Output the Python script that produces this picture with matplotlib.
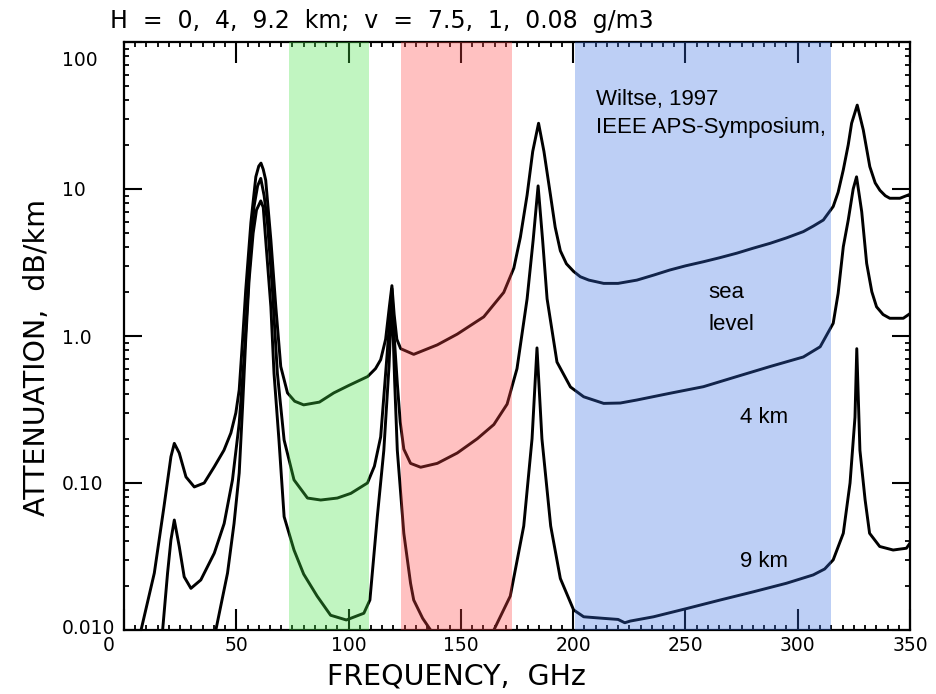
import numpy as np
import matplotlib
matplotlib.use("Agg")
import matplotlib.pyplot as plt
from matplotlib.ticker import MultipleLocator, LogLocator, NullFormatter
import matplotlib.transforms as mtransforms

# Atmospheric attenuation vs frequency at three altitudes
sea_freq = [7.6, 13.5, 17.8, 20.9, 22.4, 24.6, 27.6, 31.3, 35.7, 40.2, 44.5, 47.6,
            49.8, 51.3, 52.8, 54.2, 56.5, 58.7, 60.0, 61.0, 62.0, 63.1, 65.4, 67.6, 69.8, 72.8,
            76.0, 80.0, 87.0, 93.4, 100.0, 105.0, 108.5, 112.0, 114.3, 116.5, 118.2,
            119.3, 120.3, 121.5, 123.2, 129.0, 139.5, 148.4, 160.2, 169.1, 173.6,
            176.5, 179.5, 182.0, 184.6, 187.0, 189.9, 192.0, 194.3, 197.0, 200.2,
            203.2, 207.0, 213.6, 220.0, 228.4, 236.0, 243.0, 250.0, 258.0, 265.0,
            272.9, 280.0, 287.7, 295.0, 302.5, 307.0, 311.4, 315.8, 318.0, 320.3,
            322.5, 324.0, 326.5, 329.2, 332.1, 334.5, 336.6, 339.0, 341.0, 345.5, 350.0]
sea_att = [0.010, 0.0244, 0.069, 0.151, 0.186, 0.16, 0.11, 0.094, 0.10, 0.129, 0.167, 0.219,
           0.30, 0.43, 0.94, 2.05, 5.9, 12.1, 14.3, 15.0, 13.6, 11.5, 4.5, 1.58, 0.62, 0.41,
           0.36, 0.34, 0.355, 0.41, 0.46, 0.50, 0.53, 0.60, 0.69, 0.95, 1.6,
           2.2, 1.4, 0.95, 0.82, 0.75, 0.87, 1.03, 1.35, 1.98, 2.9,
           4.7, 9.1, 18.0, 28.0, 18.0, 9.1, 5.5, 3.8, 3.1, 2.75,
           2.53, 2.4, 2.28, 2.28, 2.4, 2.6, 2.81, 3.0, 3.2, 3.4,
           3.66, 3.95, 4.27, 4.65, 5.13, 5.6, 6.15, 7.6, 9.5, 13.5,
           20.0, 28.0, 37.2, 25.2, 14.2, 11.0, 9.8, 9.0, 8.65, 8.65, 9.2]

km4_freq = [17.2, 19.4, 20.9, 22.4, 24.6, 26.8, 29.8, 34.2, 40.2, 44.6, 48.3, 51.3,
            53.5, 55.7, 57.9, 59.5, 60.9, 62.4, 63.9, 66.1, 68.3, 71.3, 75.7, 81.7,
            87.6, 95.0, 101.0, 108.4, 111.5, 114.3, 117.3, 119.3, 120.3, 121.7, 123.0,
            124.6, 127.6, 132.1, 139.5, 148.4, 157.3, 164.7, 170.6, 175.0, 179.5,
            182.2, 184.4, 186.4, 188.4, 192.8, 198.8, 204.7, 213.6, 221.0, 228.4,
            243.2, 258.0, 272.9, 287.7, 302.5, 310.0, 315.8, 318.0, 320.3, 322.5,
            324.7, 326.2, 328.5, 330.7, 333.0, 335.1, 338.0, 341.0, 347.0, 350.0]
km4_att = [0.010, 0.0244, 0.041, 0.056, 0.037, 0.023, 0.0192, 0.0219, 0.0333, 0.053, 0.105, 0.255,
           0.72, 2.67, 7.6, 10.5, 11.8, 9.0, 5.85, 2.05, 0.557, 0.196, 0.105, 0.079,
           0.0766, 0.079, 0.085, 0.10, 0.13, 0.206, 0.8, 2.1, 1.0, 0.476, 0.26,
           0.17, 0.136, 0.128, 0.136, 0.16, 0.20, 0.25, 0.344, 0.6, 1.79,
           4.5, 10.5, 4.5, 1.79, 0.665, 0.45, 0.386, 0.348, 0.35, 0.367,
           0.408, 0.452, 0.53, 0.62, 0.72, 0.845, 1.22, 1.95, 4.05, 6.15,
           10.0, 12.1, 7.0, 3.12, 2.0, 1.58, 1.4, 1.32, 1.32, 1.42]

km9_freq = [40.9, 46.1, 49.0, 51.3, 52.8, 54.2, 55.7, 57.5, 59.0, 60.9, 62.0, 63.1,
            65.4, 66.8, 69.0, 71.3, 75.7, 80.0, 86.0, 92.0, 99.0, 106.8, 109.5,
            112.8, 115.7, 118.0, 119.3, 120.5, 121.7, 124.6, 127.6, 129.0, 133.0,
            136.5, 150.0, 164.7, 172.0, 178.0, 181.7, 183.9, 186.1, 190.0, 194.3,
            200.2, 204.7, 213.6, 220.0, 223.0, 225.4, 235.8, 250.6, 265.5, 280.3,
            295.0, 306.9, 312.0, 315.8, 320.3, 323.3, 325.5, 326.3, 327.7, 330.0,
            332.0, 336.5, 342.5, 348.4, 350.0]
km9_att = [0.010, 0.0244, 0.053, 0.117, 0.33, 0.94, 2.4, 5.0, 7.2, 8.3, 7.5, 4.5,
           1.58, 0.557, 0.196, 0.059, 0.035, 0.024, 0.017, 0.0126, 0.0117, 0.013, 0.016,
           0.059, 0.167, 0.62, 1.9, 0.5, 0.167, 0.0455, 0.0208, 0.016, 0.012,
           0.010, np.nan, 0.010, 0.017, 0.051, 0.2, 0.83, 0.2, 0.051, 0.0224,
           0.0137, 0.0123, 0.012, 0.0118, 0.0112, 0.0115, 0.0123, 0.014, 0.016, 0.0182,
           0.0208, 0.0237, 0.026, 0.030, 0.0455, 0.10, 0.28, 0.82, 0.167, 0.077,
           0.0455, 0.037, 0.035, 0.036, 0.039]

# Highlighted frequency windows (GHz) and their tints
band_edges = [(73.4, 108.9), (123.2, 172.8), (201.0, 315.0)]
band_colors = [(0.27, 0.89, 0.27), (1.0, 0.27, 0.27), (0.22, 0.44, 0.89)]

x_ticks = [0, 50, 100, 150, 200, 250, 300, 350]
y_ticks = [0.01, 0.1, 1.0, 10.0, 100.0]
y_tick_labels = ["0.010", "0.10", "1.0", "10", "100"]

fig = plt.figure(figsize=(9.36, 6.94), dpi=100)
ax = fig.add_axes([124 / 936, 64 / 694, 786 / 936, 588 / 694])

for f, a in ((sea_freq, sea_att), (km4_freq, km4_att), (km9_freq, km9_att)):
    ax.plot(f, a, color="black", lw=2.1, solid_joinstyle="round", zorder=3)

for (lo, hi), c in zip(band_edges, band_colors):
    ax.axvspan(lo, hi, facecolor=c, alpha=0.33, lw=0, zorder=5)

ax.set_yscale("log")
ax.set_xlim(0, 350)
ax.set_ylim(0.01, 100)

ax.set_xticks(x_ticks)
ax.set_xticklabels([str(v) for v in x_ticks])
ax.xaxis.set_minor_locator(MultipleLocator(5))
ax.set_yticks(y_ticks)
ax.set_yticklabels(y_tick_labels)
ax.yaxis.set_minor_locator(LogLocator(base=10, subs=np.arange(2, 10)))
ax.yaxis.set_minor_formatter(NullFormatter())

ax.tick_params(axis="both", which="both", direction="in", top=True, right=True,
               colors="black", labelsize=13.5)
ax.tick_params(axis="x", which="major", length=15, width=1.5, pad=4)
ax.tick_params(axis="y", which="major", length=13, width=1.5, pad=44.6)
ax.tick_params(axis="both", which="minor", length=3.8, width=1.3)
for lab in ax.get_yticklabels():
    lab.set_horizontalalignment("left")
    lab.set_fontfamily("DejaVu Sans")
for lab in ax.get_xticklabels():
    lab.set_fontfamily("DejaVu Sans")

# small label offsets
ylabs = ax.get_yticklabels()
ylabs[-1].set_transform(ylabs[-1].get_transform() +
                        mtransforms.ScaledTranslation(0, -0.17, fig.dpi_scale_trans))
ylabs[0].set_transform(ylabs[0].get_transform() +
                       mtransforms.ScaledTranslation(0, 0.04, fig.dpi_scale_trans))
xlabs = ax.get_xticklabels()
xlabs[0].set_transform(xlabs[0].get_transform() +
                       mtransforms.ScaledTranslation(-0.15, 0, fig.dpi_scale_trans))

for s in ax.spines.values():
    s.set_linewidth(1.6)

ax.set_xlabel("FREQUENCY,  GHz", fontsize=20.5, family="DejaVu Sans", va="center")
ax.xaxis.set_label_coords((456 - 124) / 786, (630 - 677) / 588)
ax.set_ylabel("ATTENUATION,  dB/km", fontsize=20.5, family="DejaVu Sans", va="center")
ax.yaxis.set_label_coords((37 - 124) / 786, (630 - 358) / 588)

ax.text((110 - 124) / 786, (630 - 28) / 588,
        "H  =  0,  4,  9.2  km;  v  =  7.5,  1,  0.08  g/m3",
        transform=ax.transAxes, ha="left", va="baseline", fontsize=17,
        family="DejaVu Sans")

note_kw = dict(fontsize=16, family="Liberation Sans", color="black", zorder=8,
               ha="left", va="baseline")
ax.text(210.3, 37.3, "Wiltse, 1997", **note_kw)
ax.text(210.3, 24.0, "IEEE APS-Symposium,", **note_kw)
ax.text(260.1, 1.81, "sea", **note_kw)
ax.text(260.1, 1.10, "level", **note_kw)
ax.text(274.3, 0.256, "4 km", **note_kw)
ax.text(274.3, 0.0268, "9 km", **note_kw)

fig.savefig("out.png", dpi=100)
